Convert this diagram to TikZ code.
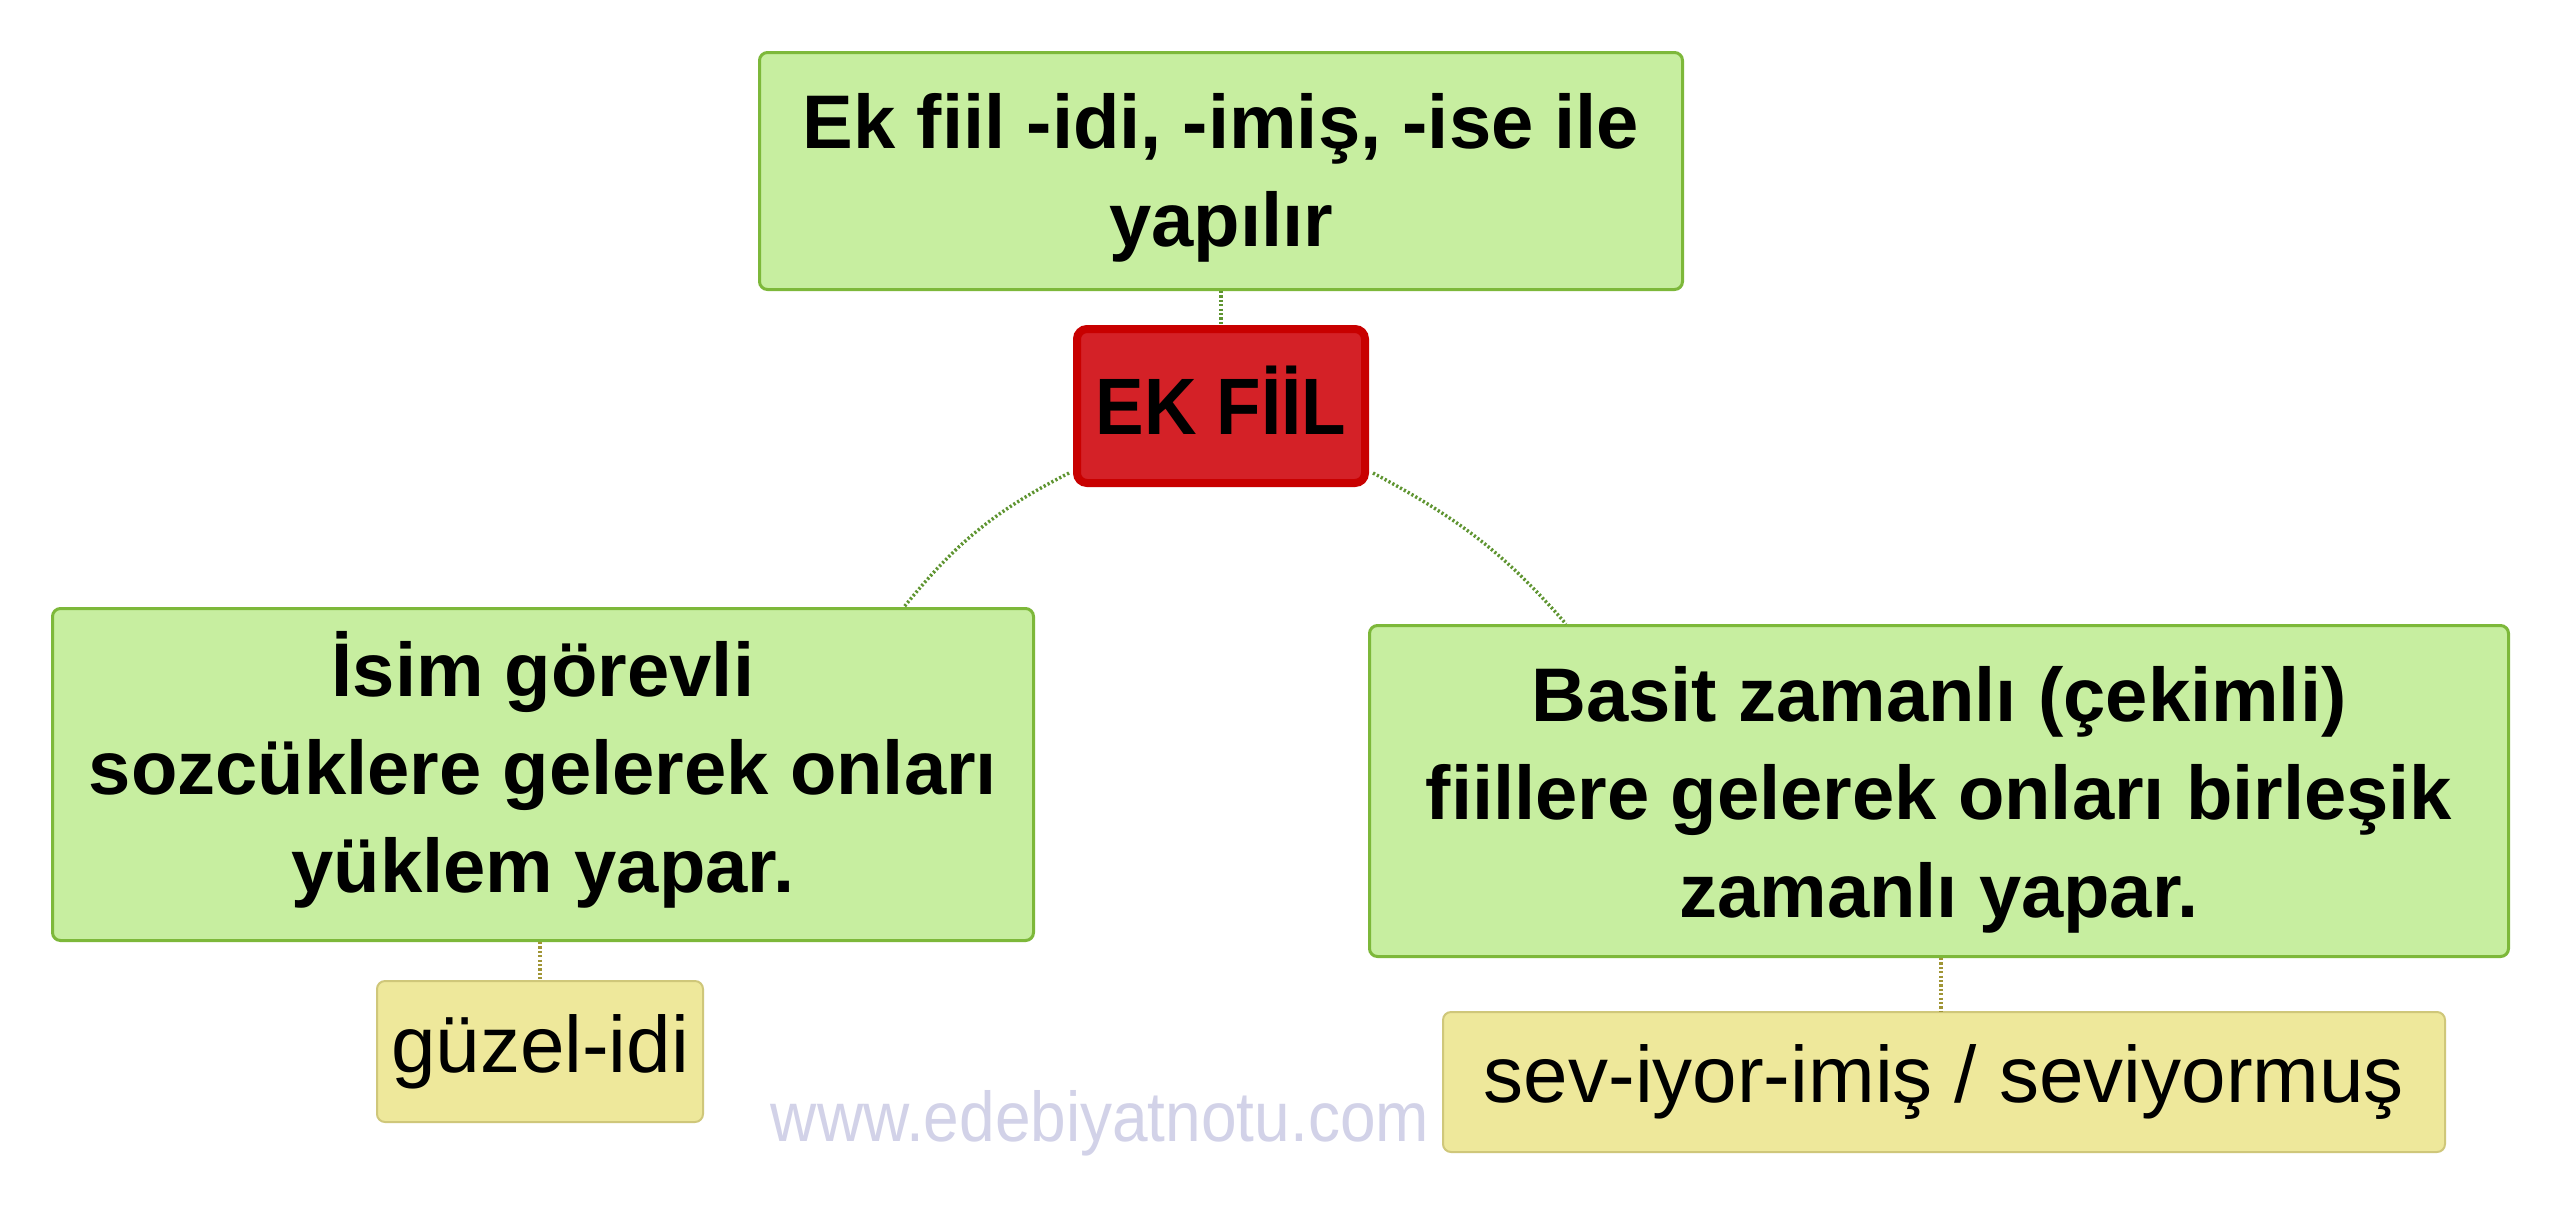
\documentclass[tikz,border=0pt]{standalone}
\usepackage{fontspec}
\usepackage{graphicx}
\setmainfont{Liberation Sans}
\definecolor{gfill}{HTML}{C7EEA0}
\definecolor{gline}{HTML}{7DB83A}
\definecolor{rfill}{HTML}{D42127}
\definecolor{rline}{HTML}{C80000}
\definecolor{yfill}{HTML}{EEE89B}
\definecolor{yline}{HTML}{CFC77A}
\definecolor{cgreen}{HTML}{5E9430}
\definecolor{colive}{HTML}{A09535}
\definecolor{wmark}{HTML}{D2D2E8}
\newcommand{\lines}[2]{\raisebox{#1}[\height][\depth]{\begin{tabular}{@{}c@{}}#2\end{tabular}}}
\tikzset{
  gbox/.style={draw=gline, fill=gfill, line width=1.5pt, rounded corners=4pt, align=center, inner sep=0pt,
    font=\fontsize{38}{49}\selectfont\bfseries},
  rbox/.style={draw=rline, fill=rfill, line width=4pt, rounded corners=5pt, align=center, inner sep=0pt,
    font=\fontsize{40}{48}\selectfont\bfseries},
  ybox/.style={draw=yline, fill=yfill, line width=1pt, rounded corners=4pt, align=center, inner sep=0pt,
    font=\fontsize{40}{48}\selectfont},
  gconn/.style={draw=cgreen, line width=1.7pt, dash pattern=on 1.1pt off 1.1pt},
  oconn/.style={draw=colive, line width=1.7pt, dash pattern=on 1.1pt off 1.1pt},
}
\begin{document}
\begin{tikzpicture}[x=0.5pt,y=-0.5pt]
\useasboundingbox[fill=white] (0,0) rectangle (2560,1207);
% nodes
\node[gbox, minimum width=461.5pt, minimum height=118.5pt] (top) at (1221,171) {\lines{-3.3pt}{Ek fiil -idi, -imiş, -ise ile\\yapılır}};
\node[rbox, minimum width=144pt, minimum height=77pt] (red) at (1221,406) {\raisebox{3pt}[\height][\depth]{\scalebox{0.91}[1]{EK FİİL}}};
\node[gbox, minimum width=490.5pt, minimum height=166pt] (left) at (543,774.5) {\lines{0pt}{İsim görevli\\sozcüklere gelerek onları\\yüklem yapar.}};
\node[gbox, minimum width=569.5pt, minimum height=165.5pt] (right) at (1939,791) {\lines{-4.5pt}{Basit zamanlı (çekimli)\\fiillere gelerek onları birleşik\\zamanlı yapar.}};
\node[ybox, minimum width=163pt, minimum height=70.5pt] (guz) at (540,1051.5) {güzel-idi};
\node[ybox, minimum width=501pt, minimum height=70pt] (sev) at (1944,1082) {sev-iyor-imiş / seviyormuş};
% connectors
\draw[gconn] (top.south) -- (red.north);
\coordinate (ls) at ([xshift=-2pt,yshift=7pt]red.south west);
\coordinate (le) at ([xshift=-65.5pt]left.north east);
\coordinate (rs) at ([xshift=2pt,yshift=7pt]red.south east);
\coordinate (re) at ([xshift=99pt]right.north west);
\draw[gconn] (ls) to[out=207,in=51] (le);
\draw[gconn] (rs) to[out=-28,in=131] (re);
\draw[oconn] (left.south -| guz.north) -- (guz.north);
\coordinate (rb) at ([xshift=1pt]right.south);
\draw[oconn] (rb) -- (rb |- sev.north);
% watermark
\node[font=\fontsize{32}{36}\selectfont, text=wmark, anchor=base, inner sep=0pt] (wm) at (1100,1141) {\scalebox{1}[1.1]{www.edebiyatnotu.com}};
\end{tikzpicture}
\end{document}
